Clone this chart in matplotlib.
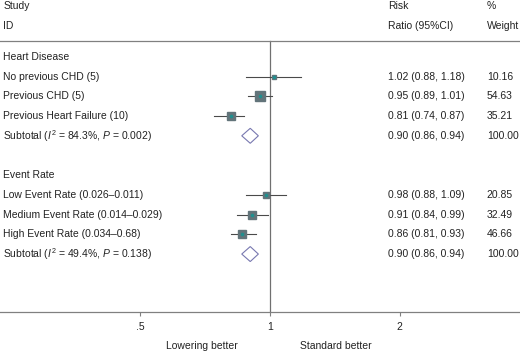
import numpy as np
import matplotlib.pyplot as plt
from matplotlib.transforms import blended_transform_factory
from matplotlib.patches import Polygon

plt.rcParams['font.family'] = ['Liberation Sans', 'DejaVu Sans']
plt.rcParams['mathtext.fontset'] = 'custom'
plt.rcParams['mathtext.rm'] = 'Liberation Sans'
plt.rcParams['mathtext.it'] = 'Liberation Sans:italic'

# rows of the forest plot, top to bottom
labels = ['Heart Disease',
          'No previous CHD (5)',
          'Previous CHD (5)',
          'Previous Heart Failure (10)',
          r'Subtotal ($\mathit{I}^2$ = 84.3%, $\mathit{P}$ = 0.002)',
          '',
          'Event Rate',
          'Low Event Rate (0.026\u20130.011)',
          'Medium Event Rate (0.014\u20130.029)',
          'High Event Rate (0.034\u20130.68)',
          r'Subtotal ($\mathit{I}^2$ = 49.4%, $\mathit{P}$ = 0.138)']
kind = ['head', 'study', 'study', 'study', 'sub', 'blank',
        'head', 'study', 'study', 'study', 'sub']
rr = [None, 1.02, 0.95, 0.81, 0.90, None, None, 0.98, 0.91, 0.86, 0.90]
lo = [None, 0.88, 0.89, 0.74, 0.86, None, None, 0.88, 0.84, 0.81, 0.86]
hi = [None, 1.18, 1.01, 0.87, 0.94, None, None, 1.09, 0.99, 0.93, 0.94]
weight = [None, 10.16, 54.63, 35.21, 100.00, None, None, 20.85, 32.49, 46.66, 100.00]

xticks = [0.5, 1, 2]
xticklabels = ['.5', '1', '2']

txt = '#222222'
lcol = '#808080'

fig = plt.figure(figsize=(5.2, 3.52), dpi=100)
ax = fig.add_axes([0, 40 / 352, 1, 312 / 352])
ax.set_xscale('log')
ax.set_xlim(0.236, 3.81)
ax.set_ylim(12.94, -2.89)
for s in ['top', 'left', 'right']:
    ax.spines[s].set_visible(False)
ax.spines['bottom'].set_color(lcol)
ax.spines['bottom'].set_linewidth(0.9)
ax.set_yticks([])
ax.set_xticks(xticks)
ax.set_xticklabels(xticklabels)
ax.minorticks_off()
ax.tick_params(axis='x', length=3, width=0.8, color=lcol, labelsize=7.5,
               labelcolor=txt, pad=4)

tr = blended_transform_factory(ax.transAxes, ax.transData)
fs = 7.5

# header
ax.text(0.006, -2.59, 'Study', transform=tr, fontsize=fs, color=txt, va='center')
ax.text(0.006, -1.57, 'ID', transform=tr, fontsize=fs, color=txt, va='center')
ax.text(0.746, -2.59, 'Risk', transform=tr, fontsize=fs, color=txt, va='center')
ax.text(0.746, -1.57, 'Ratio (95%CI)', transform=tr, fontsize=fs, color=txt, va='center')
ax.text(0.936, -2.59, '%', transform=tr, fontsize=fs, color=txt, va='center')
ax.text(0.936, -1.57, 'Weight', transform=tr, fontsize=fs, color=txt, va='center')
ax.plot([0, 1], [-0.81, -0.81], transform=tr, color=lcol, lw=0.9, clip_on=False)

# null line
ax.plot([1, 1], [-0.81, 12.94], color='#707070', lw=0.9, zorder=1)

wmax = max(w for w, k in zip(weight, kind) if k == 'study')
for i, (lab, k) in enumerate(zip(labels, kind)):
    if lab:
        ax.text(0.006, i, lab, transform=tr, fontsize=fs, color=txt, va='center')
    if k == 'study':
        ax.plot([lo[i], hi[i]], [i, i], color='#4a4a4a', lw=0.8, zorder=2)
        side = 7.0 * np.sqrt(weight[i] / wmax)
        ax.plot(rr[i], i, marker='s', ms=side, mfc='#62747a', mec='#62747a',
                zorder=3)
        ax.plot(rr[i], i, marker='o', ms=1.6, mfc='#1f8f8f', mec='#1f8f8f',
                zorder=4)
    if k == 'sub':
        d = Polygon([[lo[i], i], [rr[i], i - 0.38], [hi[i], i], [rr[i], i + 0.38]],
                    closed=True, facecolor='white', edgecolor='#7878b0', lw=0.8,
                    zorder=3)
        ax.add_patch(d)
    if rr[i] is not None:
        ax.text(0.746, i, f'{rr[i]:.2f} ({lo[i]:.2f}, {hi[i]:.2f})', transform=tr,
                fontsize=fs, color=txt, va='center')
        ax.text(0.936, i, f'{weight[i]:.2f}', transform=tr, fontsize=fs,
                color=txt, va='center')

fig.text(202 / 520, 1 - 346 / 352, 'Lowering better', ha='center', va='center',
         fontsize=fs, color=txt)
fig.text(336 / 520, 1 - 346 / 352, 'Standard better', ha='center', va='center',
         fontsize=fs, color=txt)

fig.savefig('out.png', dpi=100)
